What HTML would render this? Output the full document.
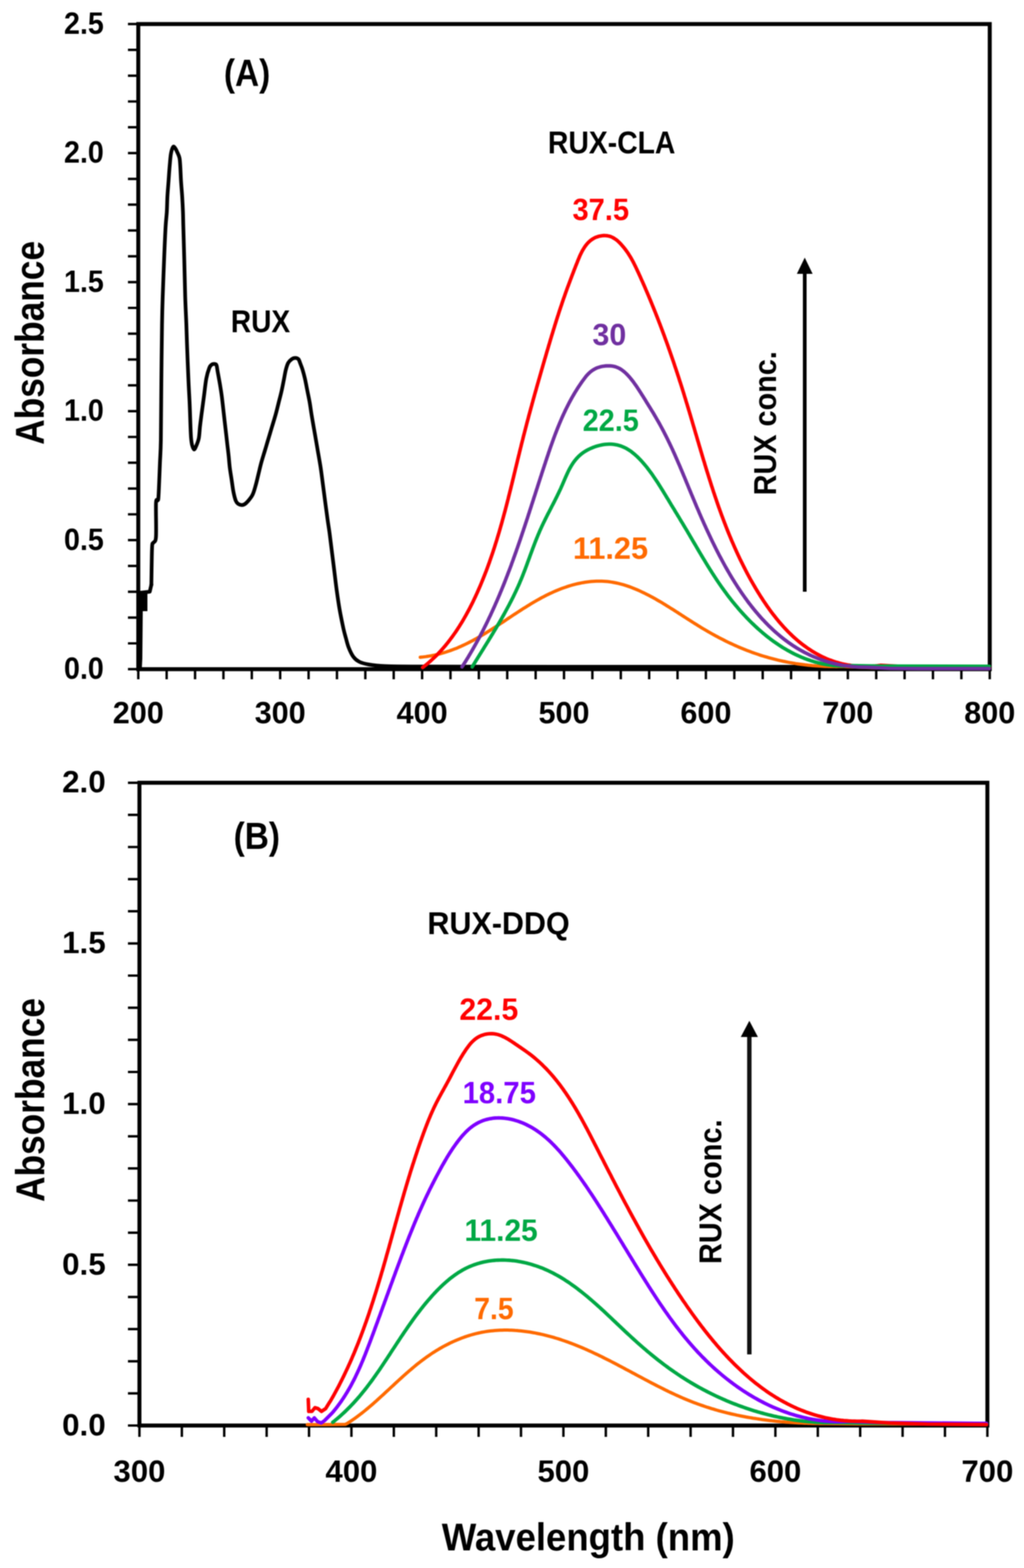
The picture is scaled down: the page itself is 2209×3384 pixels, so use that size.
<!DOCTYPE html>
<html><head><meta charset="utf-8"><title>RUX absorbance spectra</title><style>html,body{margin:0;padding:0;background:#fff;overflow:hidden}svg text{font-family:"Liberation Sans",Arial,sans-serif;font-weight:bold}</style></head><body>
<svg xmlns="http://www.w3.org/2000/svg" width="2209" height="3384" viewBox="0 0 2209 3384" style="display:block;filter:blur(1.1px);font-family:'Liberation Sans',Arial,sans-serif;font-weight:bold">
<rect width="2209" height="3384" fill="#fff"/>
<rect x="298.3" y="51.9" width="1836.8" height="1392.3" fill="none" stroke="#000" stroke-width="8.6"/>
<path d="M276 1444.2H298.3M276 1388.5H298.3M276 1332.8H298.3M276 1277.1H298.3M276 1221.4H298.3M276 1165.7H298.3M276 1110H298.3M276 1054.4H298.3M276 998.7H298.3M276 943H298.3M276 887.3H298.3M276 831.6H298.3M276 775.9H298.3M276 720.2H298.3M276 664.5H298.3M276 608.8H298.3M276 553.1H298.3M276 497.4H298.3M276 441.7H298.3M276 386.1H298.3M276 330.4H298.3M276 274.7H298.3M276 219H298.3M276 163.3H298.3M276 107.6H298.3M276 51.9H298.3M298.3 1444.2V1466M359.5 1444.2V1466M420.8 1444.2V1466M482 1444.2V1466M543.2 1444.2V1466M604.4 1444.2V1466M665.7 1444.2V1466M726.9 1444.2V1466M788.1 1444.2V1466M849.3 1444.2V1466M910.6 1444.2V1466M971.8 1444.2V1466M1033 1444.2V1466M1094.2 1444.2V1466M1155.5 1444.2V1466M1216.7 1444.2V1466M1277.9 1444.2V1466M1339.2 1444.2V1466M1400.4 1444.2V1466M1461.6 1444.2V1466M1522.8 1444.2V1466M1584.1 1444.2V1466M1645.3 1444.2V1466M1706.5 1444.2V1466M1767.7 1444.2V1466M1829 1444.2V1466M1890.2 1444.2V1466M1951.4 1444.2V1466M2012.6 1444.2V1466M2073.9 1444.2V1466M2135.1 1444.2V1466" stroke="#000" stroke-width="5.2" fill="none"/>
<rect x="299" y="1275" width="19" height="44" fill="#000"/>
<path d="M302 1441 L303 1421 L304 1318" stroke="#000" stroke-width="8" fill="none" stroke-linejoin="round" stroke-linecap="round"/>
<path d="M305 1279 L323 1277 L326.5 1262" stroke="#000" stroke-width="8" fill="none" stroke-linejoin="round" stroke-linecap="round"/>
<path d="M326.5 1262C326.7 1251.7 327.2 1214.5 327.5 1200C327.8 1185.5 327.9 1179.8 328.5 1175C329.1 1170.2 329.7 1173.8 331 1171C332.3 1168.2 335.6 1172.2 336.5 1158C337.4 1143.8 335.9 1099 336.5 1086C337.1 1073 339.1 1082.7 340 1080C340.9 1077.3 341.2 1083.3 342 1070C342.8 1056.7 344.2 1020 345 1000C345.8 980 346.5 978.5 347 950C347.5 921.5 347.6 870.7 348 829C348.4 787.3 349 731.5 349.5 700C350 668.5 350.2 663.3 351 640C351.8 616.7 353 585 354 560C355 535 356.2 507 357.2 490C358.2 473 359.1 468.9 359.8 458C360.5 447.1 360.5 435.7 361.1 424.5C361.7 413.3 362.8 402 363.6 390.8C364.4 379.6 365.2 367 366.1 357.2C367 347.4 367.5 338.7 368.7 332C369.9 325.3 371.9 319 373.5 317C375.1 315 376.6 318.2 378 320C379.4 321.8 380.6 324.4 382.1 327.8C383.6 331.2 386 335.5 387.1 340.4C388.2 345.3 388.2 348.8 388.8 357.2C389.4 365.6 389.8 379.6 390.5 390.8C391.2 402 392.3 413.3 393 424.5C393.7 435.7 394.3 447.1 394.7 458C395.1 468.9 395 473 395.5 490C396 507 396.8 535 397.5 560C398.2 585 398.8 616.7 399.5 640C400.2 663.3 401.4 683.3 402 700C402.6 716.7 402.6 720.5 403.3 740C404 759.5 405.4 795.5 406.4 817C407.3 838.5 408.2 851.5 409 868.7C409.8 885.9 410.4 907.2 410.9 920C411.4 932.8 411.6 938.9 412.2 945.7C412.8 952.5 413.4 957 414.5 961C415.6 965 417.2 969.7 418.6 970C420 970.3 421.3 967 423 963C424.7 959 427.5 952.9 428.9 945.7C430.3 938.5 430.5 928.5 431.5 920C432.5 911.5 433.3 905.1 434.7 894.4C436.1 883.7 438.2 868.7 439.9 855.8C441.6 842.9 443.1 827.5 445 817.2C446.9 806.9 449.6 799 451.5 794C453.4 789 454.9 788.4 456.6 787C458.4 785.6 460.3 785.3 462 785.5C463.7 785.7 465.8 785.3 467 788C468.2 790.7 468.2 794.8 469.5 801.8C470.8 808.8 473.1 821.1 474.6 830.1C476.1 839.1 477.4 847.2 478.5 855.8C479.6 864.4 480.5 873 481.5 881.6C482.5 890.2 483.3 897.9 484.4 907.3C485.5 916.7 487 929.7 488 938.2C489 946.8 489.4 950.9 490.3 958.6C491.2 966.3 492.4 975.8 493.3 984.4C494.2 993 494.7 1001.4 495.8 1010C496.9 1018.6 498.4 1027.2 499.7 1035.8C501 1044.4 502.1 1054.1 503.6 1061.6C505.1 1069.1 507 1076.6 508.7 1080.9C510.4 1085.2 511.9 1086 514 1087.5C516.1 1089 519.3 1089.9 521.6 1090C523.9 1090.1 525.9 1089.3 528 1088C530.1 1086.7 531.6 1085.5 534.4 1082.2C537.2 1078.9 541.9 1073.6 544.7 1068C547.5 1062.4 549.1 1056.2 551.2 1048.7C553.4 1041.2 555.5 1031.6 557.6 1023C559.7 1014.4 561.6 1005.8 564 997.2C566.4 988.6 569.5 979 571.7 971.5C574 964 575.7 957.9 577.5 952C579.3 946.1 580.7 941.3 582.3 936C583.9 930.7 584.9 927.1 587 920.2C589.1 913.3 592.3 903 594.7 894.4C597.1 885.8 599.1 877.3 601.2 868.7C603.4 860.1 605.7 851.6 607.6 843C609.5 834.4 611.3 824.7 612.8 817.2C614.3 809.7 615.1 803.6 616.6 797.9C618.1 792.2 619.6 786.8 621.8 783C623.9 779.2 627 776.8 629.5 775C632 773.2 634.1 772.5 636.5 772.5C638.9 772.5 641.8 772.9 643.7 775C645.6 777.1 646.5 781.2 648 785C649.5 788.8 651.1 792.5 652.7 797.9C654.3 803.3 656.1 809.7 657.8 817.2C659.5 824.7 661.3 834.4 663 843C664.7 851.6 666.6 860.1 668.1 868.7C669.6 877.3 670.6 885.8 672 894.4C673.4 903 675.2 913.3 676.4 920.2C677.6 927.1 677.8 927.9 679.2 936C680.6 944.1 682.8 956.7 684.8 968.6C686.8 980.5 689.4 994.3 691.4 1007.2C693.4 1020.1 694.9 1032.9 696.6 1045.8C698.3 1058.7 700 1071.5 701.7 1084.4C703.4 1097.3 705.4 1112.1 706.9 1123C708.4 1133.9 709.4 1138.7 710.9 1150C712.4 1161.3 714.3 1177.3 716 1191C717.7 1204.7 719.5 1218.6 721.2 1232.4C722.9 1246.2 724.4 1259.9 726.3 1273.6C728.2 1287.3 730.1 1301 732.5 1314.7C734.9 1328.4 738.5 1345.7 740.7 1356C743 1366.3 744.1 1369.7 746 1376.5C747.9 1383.3 749.3 1390.1 752 1397C754.7 1403.9 758.6 1412.5 762.4 1417.7C766.2 1422.9 769.3 1425.3 774.7 1428C780.1 1430.7 785.8 1432.4 795 1434C804.2 1435.6 812.5 1436.8 830 1437.5C847.5 1438.2 838.3 1438.2 900 1438.5C961.7 1438.8 994.3 1438.9 1200 1439C1405.7 1439.1 1978.3 1439 2134 1439" stroke="#000" stroke-width="8" fill="none" stroke-linejoin="round" stroke-linecap="round"/>
<path d="M906.6 1418.5 L910.5 1418.1 L914.5 1417.6 L918.5 1417.1 L922.4 1416.5 L926.3 1415.9 L930.3 1415.2 L934.2 1414.4 L938.1 1413.6 L942 1412.7 L945.9 1411.8 L949.7 1410.8 L953.6 1409.7 L957.4 1408.6 L961.2 1407.5 L965 1406.2 L968.8 1405 L972.6 1403.6 L976.3 1402.3 L980.1 1400.8 L983.8 1399.4 L987.5 1397.9 L991.1 1396.3 L994.8 1394.7 L998.4 1393 L1002 1391.3 L1005.6 1389.6 L1009.2 1387.8 L1012.8 1386 L1016.3 1384.2 L1019.9 1382.3 L1023.4 1380.4 L1026.9 1378.5 L1030.3 1376.6 L1033.8 1374.6 L1037.3 1372.6 L1040.7 1370.5 L1044.1 1368.5 L1047.5 1366.4 L1050.9 1364.3 L1054.3 1362.2 L1057.7 1360.1 L1061.1 1357.9 L1064.4 1355.8 L1067.8 1353.6 L1071.1 1351.4 L1074.5 1349.3 L1077.8 1347.1 L1081.1 1344.9 L1084.5 1342.7 L1087.8 1340.5 L1091.1 1338.3 L1094.4 1336 L1097.8 1333.8 L1101.1 1331.6 L1104.4 1329.4 L1107.7 1327.2 L1111.1 1325 L1114.4 1322.8 L1117.8 1320.6 L1121.1 1318.5 L1124.5 1316.3 L1127.8 1314.1 L1131.2 1312 L1134.6 1309.9 L1138 1307.8 L1141.4 1305.7 L1144.8 1303.6 L1148.2 1301.6 L1151.6 1299.5 L1155.1 1297.5 L1158.5 1295.5 L1162 1293.6 L1165.5 1291.6 L1169 1289.7 L1172.6 1287.9 L1176.1 1286 L1179.7 1284.2 L1183.2 1282.5 L1186.8 1280.7 L1190.5 1279.1 L1194.1 1277.4 L1197.8 1275.8 L1201.4 1274.2 L1205.1 1272.7 L1208.8 1271.3 L1212.6 1269.8 L1216.3 1268.5 L1220.1 1267.2 L1223.9 1265.9 L1227.7 1264.7 L1231.5 1263.5 L1235.3 1262.4 L1239.2 1261.4 L1243.1 1260.4 L1246.9 1259.5 L1250.8 1258.7 L1254.8 1257.9 L1258.7 1257.2 L1262.6 1256.5 L1266.6 1256 L1270.5 1255.5 L1274.5 1255.1 L1278.5 1254.7 L1282.5 1254.5 L1286.5 1254.3 L1290.5 1254.2 L1294.4 1254.2 L1298.4 1254.3 L1302.4 1254.4 L1306.4 1254.7 L1310.4 1255.1 L1314.3 1255.5 L1318.3 1256.1 L1322.2 1256.7 L1326.2 1257.5 L1330.1 1258.3 L1334 1259.1 L1337.8 1260.1 L1341.7 1261.1 L1345.5 1262.2 L1349.3 1263.4 L1353.1 1264.6 L1356.9 1265.9 L1360.7 1267.3 L1364.4 1268.7 L1368.1 1270.2 L1371.8 1271.7 L1375.5 1273.3 L1379.1 1274.9 L1382.8 1276.6 L1386.4 1278.3 L1390 1280 L1393.5 1281.8 L1397.1 1283.6 L1400.6 1285.4 L1404.2 1287.3 L1407.7 1289.2 L1411.2 1291.1 L1414.6 1293.1 L1418.1 1295.1 L1421.6 1297.1 L1425 1299.1 L1428.4 1301.1 L1431.9 1303.2 L1435.3 1305.3 L1438.7 1307.4 L1442.1 1309.5 L1445.4 1311.6 L1448.8 1313.7 L1452.2 1315.8 L1455.6 1318 L1458.9 1320.1 L1462.3 1322.3 L1465.6 1324.5 L1469 1326.6 L1472.3 1328.8 L1475.7 1330.9 L1479.1 1333.1 L1482.4 1335.3 L1485.8 1337.4 L1489.1 1339.6 L1492.5 1341.7 L1495.9 1343.9 L1499.2 1346 L1502.6 1348.1 L1506 1350.2 L1509.4 1352.3 L1512.8 1354.4 L1516.2 1356.5 L1519.7 1358.5 L1523.1 1360.5 L1526.6 1362.6 L1530 1364.5 L1533.5 1366.5 L1537 1368.5 L1540.5 1370.4 L1544 1372.3 L1547.5 1374.2 L1551 1376.1 L1554.5 1377.9 L1558.1 1379.7 L1561.7 1381.5 L1565.2 1383.3 L1568.8 1385.1 L1572.4 1386.8 L1576 1388.5 L1579.6 1390.2 L1583.3 1391.9 L1586.9 1393.5 L1590.6 1395.1 L1594.2 1396.7 L1597.9 1398.3 L1601.6 1399.8 L1605.3 1401.3 L1609 1402.8 L1612.7 1404.2 L1616.4 1405.6 L1620.2 1407 L1623.9 1408.4 L1627.7 1409.7 L1631.5 1411 L1635.3 1412.3 L1639 1413.6 L1642.8 1414.8 L1646.7 1416 L1650.5 1417.1 L1654.3 1418.2 L1658.1 1419.3 L1662 1420.4 L1665.9 1421.4 L1669.7 1422.4 L1673.6 1423.4 L1677.5 1424.4 L1681.4 1425.3 L1685.2 1426.1 L1689.1 1427 L1693.1 1427.8 L1697 1428.6 L1700.9 1429.4 L1704.8 1430.1 L1708.7 1430.8 L1712.7 1431.4 L1716.6 1432.1 L1720.6 1432.7 L1724.5 1433.2 L1728.5 1433.8 L1732.4 1434.3 L1736.4 1434.8 L1740.4 1435.2 L1744.3 1435.7 L1748.3 1436 L1752.3 1436.4 L1756.3 1436.7 L1760.2 1437.1 L1764.2 1437.3 L1768.2 1437.6 L1772.2 1437.8 L1776.2 1438 L1780.2 1438.2 L1784.2 1438.3 L1788.1 1438.4 L1792.1 1438.5 L1796.1 1438.6 L1800.1 1438.6 L1804.1 1438.7 L1808.1 1438.6 L1812.1 1438.6 L1816.1 1438.6 L1820.1 1438.5 L1880 1441 L2134 1442" stroke="#ff6a00" stroke-width="7" fill="none" stroke-linejoin="round" stroke-linecap="round"/>
<path d="M911.8 1440.5 L915 1438.1 L918.1 1435.6 L921.2 1433.1 L924.2 1430.5 L927.3 1427.9 L930.2 1425.2 L933.2 1422.5 L936.1 1419.8 L939 1417 L941.8 1414.2 L944.6 1411.3 L947.3 1408.4 L950 1405.5 L952.7 1402.5 L955.4 1399.5 L958 1396.5 L960.6 1393.5 L963.1 1390.4 L965.6 1387.3 L968.1 1384.1 L970.5 1381 L972.9 1377.8 L975.3 1374.6 L977.6 1371.3 L979.9 1368.1 L982.2 1364.8 L984.5 1361.5 L986.7 1358.2 L988.8 1354.8 L991 1351.5 L993.1 1348.1 L995.2 1344.7 L997.3 1341.3 L999.3 1337.8 L1001.3 1334.4 L1003.3 1330.9 L1005.3 1327.4 L1007.2 1323.9 L1009.1 1320.4 L1011 1316.9 L1012.9 1313.4 L1014.7 1309.8 L1016.5 1306.3 L1018.3 1302.7 L1020.1 1299.1 L1021.8 1295.5 L1023.5 1291.9 L1025.2 1288.3 L1026.9 1284.7 L1028.6 1281 L1030.2 1277.4 L1031.8 1273.7 L1033.4 1270.1 L1035 1266.4 L1036.6 1262.7 L1038.1 1259.1 L1039.6 1255.4 L1041.1 1251.7 L1042.6 1248 L1044.1 1244.3 L1045.6 1240.5 L1047 1236.8 L1048.5 1233.1 L1049.9 1229.4 L1051.3 1225.6 L1052.6 1221.9 L1054 1218.1 L1055.4 1214.4 L1056.7 1210.6 L1058 1206.8 L1059.3 1203.1 L1060.6 1199.3 L1061.9 1195.5 L1063.2 1191.7 L1064.4 1187.9 L1065.7 1184.1 L1066.9 1180.3 L1068.1 1176.5 L1069.3 1172.7 L1070.5 1168.9 L1071.7 1165.1 L1072.8 1161.3 L1074 1157.4 L1075.1 1153.6 L1076.3 1149.8 L1077.4 1146 L1078.5 1142.1 L1079.6 1138.3 L1080.7 1134.4 L1081.8 1130.6 L1082.9 1126.7 L1083.9 1122.9 L1085 1119 L1086 1115.2 L1087.1 1111.3 L1088.1 1107.5 L1089.2 1103.6 L1090.2 1099.8 L1091.2 1095.9 L1092.2 1092 L1093.2 1088.2 L1094.2 1084.3 L1095.2 1080.4 L1096.2 1076.6 L1097.1 1072.7 L1098.1 1068.8 L1099.1 1064.9 L1100 1061.1 L1101 1057.2 L1102 1053.3 L1102.9 1049.4 L1103.9 1045.6 L1104.8 1041.7 L1105.8 1037.8 L1106.7 1033.9 L1107.7 1030 L1108.6 1026.2 L1109.5 1022.3 L1110.5 1018.4 L1111.4 1014.5 L1112.3 1010.6 L1113.3 1006.7 L1114.2 1002.9 L1115.2 999 L1116.1 995.1 L1117 991.2 L1118 987.3 L1118.9 983.5 L1119.9 979.6 L1120.8 975.7 L1121.8 971.8 L1122.7 967.9 L1123.7 964.1 L1124.6 960.2 L1125.6 956.3 L1126.6 952.4 L1127.6 948.6 L1128.5 944.7 L1129.5 940.8 L1130.5 937 L1131.5 933.1 L1132.5 929.2 L1133.5 925.4 L1134.5 921.5 L1135.5 917.6 L1136.5 913.8 L1137.5 909.9 L1138.6 906 L1139.6 902.2 L1140.6 898.3 L1141.6 894.5 L1142.7 890.6 L1143.7 886.8 L1144.8 882.9 L1145.8 879 L1146.9 875.2 L1147.9 871.3 L1149 867.5 L1150 863.6 L1151.1 859.8 L1152.2 855.9 L1153.2 852.1 L1154.3 848.2 L1155.4 844.4 L1156.5 840.6 L1157.5 836.7 L1158.6 832.9 L1159.7 829 L1160.8 825.2 L1161.9 821.3 L1163 817.5 L1164.1 813.7 L1165.2 809.8 L1166.3 806 L1167.4 802.1 L1168.5 798.3 L1169.6 794.5 L1170.7 790.6 L1171.8 786.8 L1172.9 783 L1174 779.1 L1175.1 775.3 L1176.3 771.4 L1177.4 767.6 L1178.5 763.8 L1179.6 759.9 L1180.7 756.1 L1181.9 752.3 L1183 748.5 L1184.1 744.6 L1185.3 740.8 L1186.4 737 L1187.5 733.1 L1188.7 729.3 L1189.8 725.5 L1191 721.7 L1192.2 717.8 L1193.3 714 L1194.5 710.2 L1195.7 706.4 L1196.8 702.6 L1198 698.8 L1199.2 695 L1200.4 691.1 L1201.6 687.3 L1202.8 683.5 L1204.1 679.7 L1205.3 675.9 L1206.5 672.1 L1207.8 668.3 L1209 664.5 L1210.3 660.8 L1211.6 657 L1212.8 653.2 L1214.1 649.4 L1215.4 645.6 L1216.7 641.9 L1218.1 638.1 L1219.4 634.3 L1220.7 630.6 L1222.1 626.8 L1223.4 623.1 L1224.8 619.3 L1226.2 615.6 L1227.6 611.8 L1229 608.1 L1230.4 604.3 L1231.8 600.6 L1233.2 596.9 L1234.6 593.1 L1236.1 589.4 L1237.5 585.7 L1238.9 581.9 L1240.4 578.2 L1241.8 574.5 L1243.3 570.8 L1244.8 567.1 L1246.2 563.4 L1247.7 559.7 L1249.3 556 L1250.8 552.3 L1252.5 548.7 L1254.3 545.1 L1256.1 541.5 L1258.1 538.1 L1260.2 534.7 L1262.4 531.4 L1264.8 528.2 L1267.4 525.1 L1270.2 522.3 L1273.2 519.6 L1276.3 517.2 L1279.7 515 L1283.2 513.1 L1286.9 511.6 L1290.7 510.3 L1294.5 509.4 L1298.5 508.7 L1302.5 508.4 L1306.5 508.5 L1310.4 508.9 L1314.3 509.7 L1318.1 510.9 L1321.8 512.6 L1325.2 514.6 L1328.5 516.8 L1331.7 519.3 L1334.6 522 L1337.5 524.8 L1340.2 527.7 L1342.8 530.7 L1345.4 533.8 L1347.9 536.9 L1350.3 540.1 L1352.6 543.3 L1354.9 546.6 L1357 550 L1359.1 553.3 L1361.2 556.8 L1363.2 560.3 L1365.1 563.8 L1366.9 567.3 L1368.7 570.9 L1370.5 574.4 L1372.2 578 L1373.9 581.7 L1375.6 585.3 L1377.3 588.9 L1378.9 592.5 L1380.6 596.2 L1382.2 599.8 L1383.8 603.5 L1385.5 607.1 L1387.1 610.8 L1388.7 614.4 L1390.3 618.1 L1391.9 621.8 L1393.4 625.4 L1395 629.1 L1396.6 632.8 L1398.1 636.4 L1399.7 640.1 L1401.2 643.8 L1402.8 647.5 L1404.3 651.2 L1405.8 654.9 L1407.3 658.6 L1408.8 662.3 L1410.3 666 L1411.8 669.7 L1413.3 673.4 L1414.8 677.1 L1416.2 680.8 L1417.7 684.5 L1419.2 688.3 L1420.6 692 L1422 695.7 L1423.5 699.4 L1424.9 703.2 L1426.3 706.9 L1427.7 710.6 L1429.1 714.4 L1430.5 718.1 L1431.9 721.9 L1433.3 725.6 L1434.6 729.4 L1436 733.1 L1437.4 736.9 L1438.7 740.6 L1440.1 744.4 L1441.4 748.1 L1442.7 751.9 L1444.1 755.7 L1445.4 759.4 L1446.7 763.2 L1448 767 L1449.3 770.8 L1450.6 774.5 L1451.9 778.3 L1453.2 782.1 L1454.5 785.9 L1455.7 789.7 L1457 793.5 L1458.3 797.2 L1459.5 801 L1460.8 804.8 L1462 808.6 L1463.3 812.4 L1464.5 816.2 L1465.7 820 L1466.9 823.8 L1468.2 827.6 L1469.4 831.4 L1470.6 835.2 L1471.8 839 L1473 842.9 L1474.2 846.7 L1475.4 850.5 L1476.5 854.3 L1477.7 858.1 L1478.9 861.9 L1480 865.8 L1481.2 869.6 L1482.4 873.4 L1483.5 877.2 L1484.7 881 L1485.8 884.9 L1487 888.7 L1488.1 892.5 L1489.3 896.3 L1490.4 900.2 L1491.5 904 L1492.7 907.8 L1493.8 911.7 L1494.9 915.5 L1496 919.3 L1497.2 923.2 L1498.3 927 L1499.4 930.8 L1500.5 934.7 L1501.7 938.5 L1502.8 942.3 L1503.9 946.1 L1505 950 L1506.2 953.8 L1507.3 957.6 L1508.4 961.5 L1509.6 965.3 L1510.7 969.1 L1511.8 973 L1513 976.8 L1514.1 980.6 L1515.2 984.4 L1516.4 988.3 L1517.5 992.1 L1518.7 995.9 L1519.9 999.7 L1521 1003.6 L1522.2 1007.4 L1523.3 1011.2 L1524.5 1015 L1525.7 1018.8 L1526.9 1022.6 L1528.1 1026.5 L1529.3 1030.3 L1530.5 1034.1 L1531.7 1037.9 L1532.9 1041.7 L1534.1 1045.5 L1535.3 1049.3 L1536.6 1053.1 L1537.8 1056.9 L1539 1060.7 L1540.3 1064.5 L1541.6 1068.3 L1542.8 1072.1 L1544.1 1075.8 L1545.4 1079.6 L1546.7 1083.4 L1548 1087.2 L1549.3 1090.9 L1550.6 1094.7 L1552 1098.5 L1553.3 1102.2 L1554.7 1106 L1556 1109.7 L1557.4 1113.5 L1558.8 1117.2 L1560.2 1121 L1561.6 1124.7 L1563 1128.4 L1564.5 1132.2 L1565.9 1135.9 L1567.4 1139.6 L1568.8 1143.3 L1570.3 1147 L1571.8 1150.7 L1573.3 1154.4 L1574.8 1158.1 L1576.4 1161.8 L1577.9 1165.5 L1579.5 1169.2 L1581.1 1172.8 L1582.7 1176.5 L1584.3 1180.2 L1585.9 1183.8 L1587.5 1187.4 L1589.2 1191.1 L1590.8 1194.7 L1592.5 1198.3 L1594.2 1201.9 L1595.9 1205.6 L1597.7 1209.2 L1599.4 1212.7 L1601.2 1216.3 L1603 1219.9 L1604.8 1223.5 L1606.6 1227 L1608.4 1230.6 L1610.2 1234.1 L1612.1 1237.7 L1614 1241.2 L1615.9 1244.7 L1617.8 1248.2 L1619.7 1251.7 L1621.7 1255.2 L1623.7 1258.6 L1625.7 1262.1 L1627.7 1265.5 L1629.7 1269 L1631.8 1272.4 L1633.8 1275.8 L1635.9 1279.2 L1638 1282.6 L1640.1 1286 L1642.3 1289.4 L1644.5 1292.7 L1646.6 1296.1 L1648.9 1299.4 L1651.1 1302.7 L1653.4 1306 L1655.6 1309.3 L1658 1312.5 L1660.3 1315.8 L1662.6 1319 L1665 1322.2 L1667.4 1325.4 L1669.9 1328.5 L1672.4 1331.7 L1674.8 1334.8 L1677.4 1337.9 L1679.9 1341 L1682.5 1344 L1685.1 1347 L1687.8 1350 L1690.4 1353 L1693.1 1355.9 L1695.9 1358.8 L1698.6 1361.7 L1701.5 1364.6 L1704.3 1367.4 L1707.2 1370.1 L1710.1 1372.9 L1713 1375.6 L1716 1378.3 L1719 1380.9 L1722 1383.5 L1725.1 1386 L1728.2 1388.5 L1731.4 1391 L1734.6 1393.4 L1737.8 1395.7 L1741 1398 L1744.3 1400.3 L1747.7 1402.5 L1751 1404.7 L1754.4 1406.8 L1757.8 1408.8 L1761.3 1410.8 L1764.8 1412.7 L1768.4 1414.6 L1771.9 1416.4 L1775.5 1418.1 L1779.1 1419.8 L1782.8 1421.4 L1786.5 1422.9 L1790.2 1424.4 L1794 1425.7 L1797.7 1427.1 L1801.5 1428.3 L1805.3 1429.5 L1809.2 1430.6 L1813 1431.6 L1816.9 1432.6 L1820.8 1433.5 L1824.7 1434.3 L1828.6 1435 L1832.6 1435.6 L1836.5 1436.2 L1840.5 1436.7 L1844.5 1437.2 L1848.4 1437.5 L1852.4 1437.8 L1856.4 1438 L1860.4 1438.2 L1864.4 1438.2 L1868.4 1438.2 L1872.4 1438.2 L1876.4 1438 L1880.4 1437.8 L1884.3 1437.5 L1888.3 1437.2 L1892.3 1436.8 L1896.3 1436.3 L1900.2 1435.8 L1950 1438.5 L2000 1439.5 L2134 1440" stroke="#ff0000" stroke-width="7.6" fill="none" stroke-linejoin="round" stroke-linecap="round"/>
<path d="M1018.6 1439.2 L1020.7 1435.8 L1022.8 1432.4 L1024.9 1429 L1027 1425.6 L1029.1 1422.2 L1031.2 1418.8 L1033.3 1415.4 L1035.4 1412 L1037.5 1408.7 L1039.6 1405.3 L1041.7 1401.9 L1043.8 1398.5 L1045.9 1395.1 L1048 1391.7 L1050.1 1388.3 L1052.2 1384.9 L1054.3 1381.5 L1056.4 1378.1 L1058.5 1374.7 L1060.5 1371.3 L1062.6 1367.9 L1064.7 1364.4 L1066.7 1361 L1068.8 1357.6 L1070.8 1354.2 L1072.8 1350.7 L1074.9 1347.3 L1076.9 1343.8 L1078.9 1340.4 L1080.9 1336.9 L1082.8 1333.5 L1084.8 1330 L1086.8 1326.5 L1088.7 1323 L1090.6 1319.5 L1092.5 1316 L1094.4 1312.5 L1096.3 1309 L1098.2 1305.5 L1100 1301.9 L1101.9 1298.4 L1103.7 1294.8 L1105.5 1291.3 L1107.3 1287.7 L1109 1284.1 L1110.7 1280.5 L1112.5 1276.9 L1114.1 1273.3 L1115.8 1269.7 L1117.5 1266 L1119.1 1262.4 L1120.7 1258.7 L1122.2 1255 L1123.8 1251.4 L1125.3 1247.7 L1126.8 1244 L1128.3 1240.3 L1129.7 1236.5 L1131.2 1232.8 L1132.6 1229.1 L1134 1225.4 L1135.4 1221.6 L1136.8 1217.9 L1138.1 1214.1 L1139.5 1210.4 L1140.9 1206.6 L1142.3 1202.9 L1143.6 1199.1 L1145 1195.4 L1146.4 1191.6 L1147.8 1187.9 L1149.1 1184.2 L1150.6 1180.4 L1152 1176.7 L1153.4 1173 L1154.8 1169.2 L1156.3 1165.5 L1157.8 1161.8 L1159.3 1158.1 L1160.8 1154.4 L1162.4 1150.8 L1163.9 1147.1 L1165.5 1143.4 L1167.2 1139.8 L1168.8 1136.2 L1170.5 1132.6 L1172.2 1129 L1174 1125.4 L1175.7 1121.8 L1177.5 1118.2 L1179.3 1114.6 L1181.1 1111.1 L1182.9 1107.5 L1184.8 1104 L1186.6 1100.4 L1188.4 1096.9 L1190.2 1093.3 L1192.1 1089.8 L1193.9 1086.2 L1195.7 1082.7 L1197.5 1079.1 L1199.3 1075.5 L1201.1 1072 L1202.8 1068.4 L1204.6 1064.8 L1206.3 1061.2 L1208 1057.6 L1209.7 1054 L1211.3 1050.3 L1212.9 1046.7 L1214.5 1043 L1216.1 1039.3 L1217.6 1035.7 L1219.2 1032 L1220.8 1028.4 L1222.5 1024.7 L1224.1 1021.1 L1225.8 1017.5 L1227.6 1013.9 L1229.5 1010.4 L1231.5 1006.9 L1233.5 1003.5 L1235.7 1000.1 L1237.9 996.9 L1240.4 993.7 L1242.9 990.6 L1245.6 987.6 L1248.4 984.8 L1251.3 982.1 L1254.4 979.5 L1257.6 977.1 L1260.9 974.9 L1264.3 972.8 L1267.8 970.9 L1271.3 969.1 L1275 967.4 L1278.6 965.9 L1282.4 964.5 L1286.2 963.2 L1290 962.1 L1293.9 961.1 L1297.8 960.3 L1301.7 959.6 L1305.6 959 L1309.6 958.7 L1313.6 958.5 L1317.6 958.5 L1321.6 958.8 L1325.5 959.2 L1329.5 959.9 L1333.4 960.8 L1337.2 961.9 L1341 963.2 L1344.7 964.7 L1348.3 966.4 L1351.8 968.2 L1355.2 970.3 L1358.6 972.4 L1361.9 974.7 L1365 977.2 L1368.1 979.7 L1371.1 982.3 L1374.1 985 L1376.9 987.8 L1379.7 990.6 L1382.5 993.5 L1385.2 996.5 L1387.8 999.5 L1390.4 1002.5 L1393 1005.6 L1395.5 1008.7 L1397.9 1011.8 L1400.3 1015 L1402.7 1018.2 L1405.1 1021.4 L1407.4 1024.7 L1409.6 1028 L1411.9 1031.3 L1414.1 1034.6 L1416.3 1037.9 L1418.5 1041.2 L1420.7 1044.6 L1422.8 1048 L1424.9 1051.3 L1427 1054.7 L1429.1 1058.1 L1431.2 1061.5 L1433.3 1064.9 L1435.4 1068.4 L1437.4 1071.8 L1439.5 1075.2 L1441.6 1078.6 L1443.6 1082 L1445.7 1085.4 L1447.7 1088.9 L1449.8 1092.3 L1451.9 1095.7 L1454 1099.1 L1456 1102.5 L1458.1 1105.9 L1460.2 1109.3 L1462.2 1112.7 L1464.3 1116.1 L1466.4 1119.6 L1468.4 1123 L1470.5 1126.4 L1472.6 1129.8 L1474.6 1133.2 L1476.7 1136.7 L1478.7 1140.1 L1480.8 1143.5 L1482.8 1146.9 L1484.8 1150.4 L1486.9 1153.8 L1488.9 1157.3 L1490.9 1160.7 L1492.9 1164.1 L1494.9 1167.6 L1496.9 1171 L1499 1174.5 L1501 1177.9 L1503 1181.4 L1505 1184.8 L1507 1188.2 L1509.1 1191.7 L1511.1 1195.1 L1513.1 1198.5 L1515.2 1202 L1517.2 1205.4 L1519.3 1208.8 L1521.4 1212.2 L1523.4 1215.6 L1525.5 1219 L1527.6 1222.4 L1529.7 1225.8 L1531.8 1229.2 L1534 1232.6 L1536.1 1236 L1538.3 1239.3 L1540.4 1242.7 L1542.6 1246 L1544.8 1249.3 L1547 1252.7 L1549.2 1256 L1551.5 1259.3 L1553.8 1262.6 L1556 1265.8 L1558.3 1269.1 L1560.7 1272.3 L1563 1275.6 L1565.4 1278.8 L1567.7 1282 L1570.1 1285.2 L1572.5 1288.4 L1575 1291.5 L1577.4 1294.7 L1579.9 1297.8 L1582.4 1300.9 L1585 1304 L1587.5 1307.1 L1590.1 1310.1 L1592.7 1313.2 L1595.3 1316.2 L1597.9 1319.2 L1600.6 1322.1 L1603.3 1325.1 L1606 1328 L1608.7 1330.9 L1611.4 1333.8 L1614.2 1336.7 L1617 1339.6 L1619.8 1342.4 L1622.7 1345.2 L1625.6 1347.9 L1628.5 1350.7 L1631.4 1353.4 L1634.3 1356.1 L1637.3 1358.8 L1640.3 1361.4 L1643.3 1364 L1646.3 1366.6 L1649.4 1369.2 L1652.5 1371.7 L1655.6 1374.2 L1658.8 1376.6 L1661.9 1379.1 L1665.1 1381.5 L1668.3 1383.8 L1671.6 1386.1 L1674.9 1388.4 L1678.2 1390.7 L1681.5 1392.9 L1684.8 1395 L1688.2 1397.2 L1691.6 1399.2 L1695.1 1401.3 L1698.5 1403.3 L1702 1405.2 L1705.5 1407.1 L1709 1409 L1712.6 1410.8 L1716.2 1412.6 L1719.8 1414.3 L1723.4 1415.9 L1727.1 1417.5 L1730.7 1419.1 L1734.4 1420.6 L1738.2 1422 L1741.9 1423.4 L1745.7 1424.7 L1749.5 1426 L1753.3 1427.2 L1757.1 1428.3 L1760.9 1429.4 L1764.8 1430.4 L1768.7 1431.3 L1772.6 1432.2 L1776.5 1433 L1780.4 1433.8 L1784.3 1434.4 L1788.3 1435.1 L1792.2 1435.6 L1796.2 1436.1 L1800.2 1436.5 L1804.1 1436.8 L1808.1 1437 L1812.1 1437.2 L1816.1 1437.3 L1820.1 1437.4 L1824.1 1437.3 L1828.1 1437.2 L1832.1 1437 L1836 1436.8 L1840 1436.5 L1900 1437.5 L2134 1438" stroke="#00a844" stroke-width="7.6" fill="none" stroke-linejoin="round" stroke-linecap="round"/>
<path d="M996.7 1439.2 L998.9 1435.9 L1001 1432.5 L1003.2 1429.1 L1005.3 1425.7 L1007.4 1422.3 L1009.5 1418.9 L1011.5 1415.5 L1013.6 1412 L1015.6 1408.6 L1017.6 1405.1 L1019.6 1401.7 L1021.6 1398.2 L1023.6 1394.7 L1025.5 1391.2 L1027.5 1387.7 L1029.4 1384.2 L1031.3 1380.7 L1033.2 1377.2 L1035.1 1373.7 L1037 1370.1 L1038.8 1366.6 L1040.7 1363 L1042.5 1359.5 L1044.3 1355.9 L1046.1 1352.3 L1047.9 1348.8 L1049.6 1345.2 L1051.4 1341.6 L1053.1 1338 L1054.8 1334.4 L1056.6 1330.7 L1058.3 1327.1 L1059.9 1323.5 L1061.6 1319.9 L1063.3 1316.2 L1064.9 1312.6 L1066.6 1308.9 L1068.2 1305.3 L1069.8 1301.6 L1071.4 1297.9 L1073 1294.3 L1074.6 1290.6 L1076.1 1286.9 L1077.7 1283.2 L1079.2 1279.5 L1080.8 1275.8 L1082.3 1272.1 L1083.8 1268.4 L1085.3 1264.7 L1086.8 1261 L1088.3 1257.3 L1089.7 1253.6 L1091.2 1249.9 L1092.6 1246.1 L1094.1 1242.4 L1095.5 1238.7 L1096.9 1234.9 L1098.4 1231.2 L1099.8 1227.5 L1101.2 1223.7 L1102.6 1220 L1103.9 1216.2 L1105.3 1212.5 L1106.7 1208.7 L1108 1204.9 L1109.4 1201.2 L1110.7 1197.4 L1112.1 1193.6 L1113.4 1189.9 L1114.7 1186.1 L1116.1 1182.3 L1117.4 1178.5 L1118.7 1174.8 L1120 1171 L1121.3 1167.2 L1122.6 1163.4 L1123.9 1159.6 L1125.2 1155.8 L1126.4 1152 L1127.7 1148.3 L1129 1144.5 L1130.2 1140.7 L1131.5 1136.9 L1132.8 1133.1 L1134 1129.3 L1135.3 1125.5 L1136.5 1121.7 L1137.8 1117.9 L1139 1114.1 L1140.2 1110.3 L1141.5 1106.5 L1142.7 1102.7 L1143.9 1098.9 L1145.2 1095.1 L1146.4 1091.2 L1147.6 1087.4 L1148.9 1083.6 L1150.1 1079.8 L1151.3 1076 L1152.5 1072.2 L1153.8 1068.4 L1155 1064.6 L1156.2 1060.8 L1157.4 1057 L1158.7 1053.2 L1159.9 1049.4 L1161.1 1045.6 L1162.3 1041.8 L1163.6 1037.9 L1164.8 1034.1 L1166 1030.3 L1167.3 1026.5 L1168.5 1022.7 L1169.7 1018.9 L1171 1015.1 L1172.2 1011.3 L1173.5 1007.5 L1174.7 1003.7 L1176 999.9 L1177.2 996.1 L1178.5 992.3 L1179.7 988.5 L1181 984.7 L1182.3 980.9 L1183.5 977.1 L1184.8 973.4 L1186.1 969.6 L1187.4 965.8 L1188.7 962 L1190.1 958.2 L1191.4 954.5 L1192.8 950.7 L1194.1 947 L1195.5 943.2 L1196.9 939.5 L1198.3 935.7 L1199.8 932 L1201.2 928.2 L1202.7 924.5 L1204.2 920.8 L1205.7 917.1 L1207.2 913.4 L1208.8 909.7 L1210.3 906.1 L1211.9 902.4 L1213.6 898.7 L1215.2 895.1 L1216.9 891.5 L1218.6 887.8 L1220.3 884.2 L1222.1 880.6 L1223.9 877.1 L1225.7 873.5 L1227.5 869.9 L1229.4 866.4 L1231.3 862.9 L1233.2 859.4 L1235.2 855.9 L1237.2 852.5 L1239.2 849 L1241.3 845.6 L1243.4 842.2 L1245.5 838.8 L1247.7 835.4 L1249.9 832.1 L1252.1 828.8 L1254.4 825.5 L1256.7 822.2 L1259.1 819 L1261.5 815.8 L1263.9 812.6 L1266.5 809.6 L1269.2 806.7 L1272.1 803.9 L1275.2 801.3 L1278.5 799 L1281.9 796.9 L1285.4 795.1 L1289.1 793.5 L1292.9 792.3 L1296.8 791.2 L1300.7 790.4 L1304.6 789.9 L1308.6 789.6 L1312.6 789.5 L1316.6 789.6 L1320.6 790 L1324.5 790.8 L1328.4 791.8 L1332.1 793.2 L1335.8 794.9 L1339.2 796.9 L1342.5 799.2 L1345.7 801.6 L1348.7 804.3 L1351.6 807 L1354.4 809.9 L1357.1 812.8 L1359.7 815.9 L1362.2 819 L1364.7 822.1 L1367.1 825.3 L1369.4 828.6 L1371.7 831.8 L1374 835.1 L1376.2 838.5 L1378.4 841.8 L1380.5 845.2 L1382.7 848.5 L1384.8 851.9 L1387 855.3 L1389.1 858.7 L1391.2 862.1 L1393.3 865.5 L1395.4 868.9 L1397.5 872.3 L1399.6 875.7 L1401.7 879.1 L1403.8 882.5 L1405.9 885.9 L1408 889.3 L1410.1 892.8 L1412.1 896.2 L1414.1 899.6 L1416.1 903.1 L1418.1 906.6 L1420.1 910 L1422.1 913.5 L1424 917 L1425.9 920.5 L1427.8 924.1 L1429.7 927.6 L1431.6 931.1 L1433.4 934.7 L1435.2 938.2 L1437 941.8 L1438.8 945.4 L1440.6 949 L1442.3 952.6 L1444.1 956.2 L1445.8 959.8 L1447.5 963.4 L1449.2 967 L1450.9 970.7 L1452.5 974.3 L1454.2 977.9 L1455.8 981.6 L1457.4 985.3 L1459 988.9 L1460.6 992.6 L1462.2 996.2 L1463.8 999.9 L1465.4 1003.6 L1467 1007.3 L1468.5 1011 L1470.1 1014.6 L1471.6 1018.3 L1473.2 1022 L1474.7 1025.7 L1476.3 1029.4 L1477.8 1033.1 L1479.3 1036.8 L1480.8 1040.5 L1482.4 1044.2 L1483.9 1047.9 L1485.4 1051.6 L1486.9 1055.3 L1488.5 1059 L1490 1062.7 L1491.5 1066.4 L1493.1 1070.1 L1494.6 1073.8 L1496.1 1077.4 L1497.7 1081.1 L1499.2 1084.8 L1500.8 1088.5 L1502.3 1092.2 L1503.9 1095.9 L1505.5 1099.5 L1507.1 1103.2 L1508.6 1106.9 L1510.2 1110.6 L1511.8 1114.2 L1513.4 1117.9 L1515 1121.6 L1516.7 1125.2 L1518.3 1128.9 L1519.9 1132.5 L1521.6 1136.2 L1523.2 1139.8 L1524.9 1143.4 L1526.6 1147.1 L1528.3 1150.7 L1530 1154.3 L1531.7 1157.9 L1533.4 1161.6 L1535.1 1165.2 L1536.8 1168.8 L1538.6 1172.4 L1540.4 1176 L1542.1 1179.5 L1543.9 1183.1 L1545.7 1186.7 L1547.5 1190.3 L1549.3 1193.8 L1551.2 1197.4 L1553 1200.9 L1554.9 1204.4 L1556.8 1208 L1558.7 1211.5 L1560.6 1215 L1562.5 1218.5 L1564.4 1222 L1566.4 1225.5 L1568.4 1229 L1570.4 1232.5 L1572.4 1235.9 L1574.4 1239.4 L1576.4 1242.8 L1578.5 1246.2 L1580.6 1249.7 L1582.7 1253.1 L1584.8 1256.5 L1586.9 1259.8 L1589.1 1263.2 L1591.2 1266.6 L1593.4 1269.9 L1595.6 1273.2 L1597.9 1276.6 L1600.1 1279.9 L1602.4 1283.2 L1604.7 1286.4 L1607 1289.7 L1609.4 1292.9 L1611.7 1296.2 L1614.1 1299.4 L1616.5 1302.6 L1619 1305.7 L1621.4 1308.9 L1623.9 1312 L1626.4 1315.1 L1629 1318.2 L1631.5 1321.3 L1634.1 1324.3 L1636.7 1327.4 L1639.4 1330.4 L1642 1333.4 L1644.7 1336.3 L1647.5 1339.2 L1650.2 1342.1 L1653 1345 L1655.8 1347.9 L1658.6 1350.7 L1661.5 1353.5 L1664.4 1356.3 L1667.3 1359 L1670.2 1361.7 L1673.2 1364.4 L1676.2 1367 L1679.3 1369.6 L1682.3 1372.2 L1685.4 1374.7 L1688.5 1377.2 L1691.7 1379.7 L1694.9 1382.1 L1698.1 1384.5 L1701.3 1386.8 L1704.6 1389.1 L1707.9 1391.4 L1711.2 1393.6 L1714.6 1395.8 L1718 1397.9 L1721.4 1400 L1724.8 1402 L1728.3 1404 L1731.8 1405.9 L1735.3 1407.8 L1738.9 1409.6 L1742.5 1411.4 L1746.1 1413.2 L1749.7 1414.9 L1753.3 1416.5 L1757 1418.1 L1760.7 1419.6 L1764.4 1421.1 L1768.2 1422.5 L1771.9 1423.9 L1775.7 1425.2 L1779.5 1426.4 L1783.3 1427.6 L1787.2 1428.8 L1791 1429.9 L1794.9 1430.9 L1798.8 1431.9 L1802.6 1432.8 L1806.5 1433.7 L1810.5 1434.5 L1814.4 1435.2 L1818.3 1435.9 L1822.3 1436.5 L1826.2 1437.1 L1830.2 1437.6 L1834.2 1438.1 L1838.2 1438.5 L1842.1 1438.9 L1846.1 1439.2 L1850.1 1439.5 L1854.1 1439.7 L1858.1 1439.8 L1862.1 1439.9 L1866.1 1440 L1870.1 1440 L1920 1442.5 L1980 1443 L2134 1443" stroke="#7030a0" stroke-width="7.6" fill="none" stroke-linejoin="round" stroke-linecap="round"/>
<rect x="300.8" y="1689.3" width="1829.2" height="1387.2" fill="none" stroke="#000" stroke-width="8.6"/>
<path d="M276 3076.5H300.8M276 3007.1H300.8M276 2937.8H300.8M276 2868.4H300.8M276 2799.1H300.8M276 2729.7H300.8M276 2660.3H300.8M276 2591H300.8M276 2521.6H300.8M276 2452.3H300.8M276 2382.9H300.8M276 2313.5H300.8M276 2244.2H300.8M276 2174.8H300.8M276 2105.5H300.8M276 2036.1H300.8M276 1966.7H300.8M276 1897.4H300.8M276 1828H300.8M276 1758.7H300.8M276 1689.3H300.8M300.8 3076.5V3101M392.3 3076.5V3101M483.7 3076.5V3101M575.2 3076.5V3101M666.6 3076.5V3101M758.1 3076.5V3101M849.6 3076.5V3101M941 3076.5V3101M1032.5 3076.5V3101M1123.9 3076.5V3101M1215.4 3076.5V3101M1306.9 3076.5V3101M1398.3 3076.5V3101M1489.8 3076.5V3101M1581.2 3076.5V3101M1672.7 3076.5V3101M1764.2 3076.5V3101M1855.6 3076.5V3101M1947.1 3076.5V3101M2038.5 3076.5V3101M2130 3076.5V3101" stroke="#000" stroke-width="5.2" fill="none"/>
<path d="M663 3074.5 L700 3074.5 L745 3074 L748.8 3072.2 L752.2 3070 L755.5 3067.8 L758.8 3065.6 L762.1 3063.4 L765.4 3061.1 L768.6 3058.7 L771.9 3056.3 L775 3053.9 L778.2 3051.5 L781.4 3049.1 L784.5 3046.6 L787.6 3044.1 L790.7 3041.5 L793.8 3039 L796.8 3036.4 L799.8 3033.8 L802.9 3031.2 L805.9 3028.6 L808.9 3025.9 L811.9 3023.3 L814.8 3020.6 L817.8 3017.9 L820.8 3015.2 L823.7 3012.5 L826.7 3009.8 L829.6 3007.1 L832.5 3004.4 L835.5 3001.7 L838.4 2999 L841.3 2996.3 L844.2 2993.5 L847.2 2990.8 L850.1 2988.1 L853 2985.4 L856 2982.7 L858.9 2980 L861.8 2977.3 L864.8 2974.6 L867.8 2971.9 L870.7 2969.2 L873.7 2966.6 L876.7 2963.9 L879.7 2961.3 L882.7 2958.7 L885.8 2956.1 L888.8 2953.5 L891.9 2950.9 L894.9 2948.4 L898 2945.8 L901.1 2943.3 L904.3 2940.9 L907.4 2938.4 L910.6 2936 L913.8 2933.6 L917 2931.2 L920.2 2928.9 L923.5 2926.6 L926.8 2924.3 L930.1 2922 L933.4 2919.8 L936.8 2917.7 L940.2 2915.6 L943.6 2913.5 L947 2911.4 L950.5 2909.4 L953.9 2907.4 L957.4 2905.5 L961 2903.6 L964.5 2901.8 L968.1 2900 L971.7 2898.2 L975.3 2896.5 L978.9 2894.9 L982.6 2893.2 L986.2 2891.7 L989.9 2890.2 L993.6 2888.7 L997.4 2887.3 L1001.1 2885.9 L1004.9 2884.6 L1008.7 2883.3 L1012.5 2882.1 L1016.3 2881 L1020.2 2879.9 L1024 2878.9 L1027.9 2877.9 L1031.8 2877 L1035.7 2876.1 L1039.6 2875.3 L1043.5 2874.6 L1047.5 2873.9 L1051.4 2873.3 L1055.4 2872.8 L1059.4 2872.3 L1063.3 2871.9 L1067.3 2871.5 L1071.3 2871.2 L1075.3 2871 L1079.3 2870.8 L1083.3 2870.7 L1087.3 2870.6 L1091.3 2870.6 L1095.3 2870.6 L1099.2 2870.7 L1103.2 2870.8 L1107.2 2871 L1111.2 2871.3 L1115.2 2871.5 L1119.2 2871.9 L1123.2 2872.3 L1127.1 2872.7 L1131.1 2873.2 L1135.1 2873.7 L1139 2874.2 L1143 2874.8 L1146.9 2875.5 L1150.8 2876.2 L1154.8 2876.9 L1158.7 2877.7 L1162.6 2878.5 L1166.5 2879.3 L1170.4 2880.2 L1174.3 2881.1 L1178.2 2882.1 L1182 2883.1 L1185.9 2884.1 L1189.8 2885.1 L1193.6 2886.2 L1197.4 2887.4 L1201.3 2888.5 L1205.1 2889.7 L1208.9 2890.9 L1212.7 2892.2 L1216.5 2893.5 L1220.2 2894.8 L1224 2896.1 L1227.7 2897.5 L1231.5 2898.9 L1235.2 2900.3 L1239 2901.7 L1242.7 2903.2 L1246.4 2904.7 L1250.1 2906.2 L1253.8 2907.7 L1257.4 2909.3 L1261.1 2910.9 L1264.8 2912.5 L1268.4 2914.1 L1272 2915.8 L1275.7 2917.4 L1279.3 2919.1 L1282.9 2920.8 L1286.5 2922.5 L1290.1 2924.2 L1293.7 2926 L1297.3 2927.7 L1300.9 2929.5 L1304.5 2931.3 L1308 2933.1 L1311.6 2934.9 L1315.2 2936.7 L1318.7 2938.5 L1322.3 2940.3 L1325.8 2942.2 L1329.4 2944 L1332.9 2945.9 L1336.4 2947.8 L1340 2949.6 L1343.5 2951.5 L1347 2953.4 L1350.5 2955.3 L1354.1 2957.1 L1357.6 2959 L1361.1 2960.9 L1364.6 2962.8 L1368.2 2964.7 L1371.7 2966.6 L1375.2 2968.5 L1378.7 2970.4 L1382.2 2972.2 L1385.8 2974.1 L1389.3 2976 L1392.8 2977.9 L1396.3 2979.7 L1399.9 2981.6 L1403.4 2983.5 L1407 2985.3 L1410.5 2987.2 L1414.1 2989 L1417.6 2990.8 L1421.2 2992.6 L1424.7 2994.4 L1428.3 2996.2 L1431.9 2998 L1435.5 2999.8 L1439 3001.5 L1442.6 3003.3 L1446.2 3005 L1449.9 3006.7 L1453.5 3008.4 L1457.1 3010.1 L1460.7 3011.7 L1464.4 3013.4 L1468 3015 L1471.7 3016.6 L1475.4 3018.2 L1479 3019.7 L1482.7 3021.3 L1486.4 3022.8 L1490.1 3024.3 L1493.8 3025.7 L1497.6 3027.2 L1501.3 3028.6 L1505.1 3030 L1508.8 3031.3 L1512.6 3032.6 L1516.4 3033.9 L1520.2 3035.2 L1523.9 3036.5 L1527.7 3037.7 L1531.6 3038.9 L1535.4 3040.1 L1539.2 3041.2 L1543 3042.4 L1546.9 3043.5 L1550.7 3044.6 L1554.6 3045.6 L1558.4 3046.6 L1562.3 3047.7 L1566.2 3048.6 L1570 3049.6 L1573.9 3050.5 L1577.8 3051.5 L1581.7 3052.3 L1585.6 3053.2 L1589.5 3054.1 L1593.4 3054.9 L1597.3 3055.7 L1601.3 3056.5 L1605.2 3057.2 L1609.1 3058 L1613 3058.7 L1617 3059.4 L1620.9 3060 L1624.8 3060.7 L1628.8 3061.3 L1632.7 3061.9 L1636.7 3062.5 L1640.6 3063.1 L1644.6 3063.7 L1648.6 3064.2 L1652.5 3064.7 L1656.5 3065.2 L1660.4 3065.7 L1664.4 3066.1 L1668.4 3066.6 L1672.4 3067 L1676.3 3067.4 L1680.3 3067.8 L1684.3 3068.2 L1688.3 3068.5 L1692.3 3068.8 L1696.2 3069.2 L1700.2 3069.5 L1704.2 3069.7 L1708.2 3070 L1712.2 3070.3 L1716.2 3070.5 L1720.2 3070.7 L1724.1 3070.9 L1728.1 3071.1 L1732.1 3071.3 L1736.1 3071.4 L1740.1 3071.6 L1744.1 3071.7 L1748.1 3071.8 L1752.1 3071.9 L1756.1 3072 L1760.1 3072.1 L1764.1 3072.1 L1768.1 3072.2 L1772.1 3072.2 L1776.1 3072.2 L1780.1 3072.2 L1850 3073 L2128 3073.5" stroke="#ff6a00" stroke-width="7" fill="none" stroke-linejoin="round" stroke-linecap="round"/>
<path d="M717.9 3069.4 L721.1 3067 L724.1 3064.4 L727.2 3061.9 L730.2 3059.3 L733.3 3056.7 L736.2 3054 L739.2 3051.3 L742.1 3048.6 L745 3045.9 L747.9 3043.1 L750.7 3040.3 L753.5 3037.5 L756.3 3034.6 L759.1 3031.7 L761.8 3028.8 L764.5 3025.9 L767.2 3022.9 L769.8 3019.9 L772.5 3016.9 L775.1 3013.9 L777.6 3010.9 L780.2 3007.8 L782.7 3004.7 L785.2 3001.6 L787.7 2998.5 L790.2 2995.3 L792.6 2992.2 L795 2989 L797.4 2985.8 L799.8 2982.6 L802.2 2979.4 L804.5 2976.2 L806.8 2972.9 L809.1 2969.7 L811.4 2966.4 L813.7 2963.1 L816 2959.9 L818.3 2956.6 L820.5 2953.3 L822.7 2950 L825 2946.7 L827.2 2943.3 L829.4 2940 L831.6 2936.7 L833.8 2933.4 L836 2930 L838.2 2926.7 L840.4 2923.4 L842.5 2920 L844.7 2916.7 L846.9 2913.3 L849.1 2910 L851.3 2906.7 L853.5 2903.3 L855.6 2900 L857.8 2896.6 L860 2893.3 L862.2 2890 L864.4 2886.7 L866.6 2883.3 L868.9 2880 L871.1 2876.7 L873.3 2873.4 L875.6 2870.1 L877.8 2866.8 L880.1 2863.5 L882.4 2860.3 L884.7 2857 L887 2853.8 L889.3 2850.5 L891.6 2847.3 L894 2844 L896.3 2840.8 L898.7 2837.6 L901.1 2834.4 L903.5 2831.3 L906 2828.1 L908.4 2825 L910.9 2821.8 L913.4 2818.7 L915.9 2815.6 L918.4 2812.5 L921 2809.5 L923.6 2806.4 L926.2 2803.4 L928.8 2800.4 L931.4 2797.4 L934.1 2794.5 L936.8 2791.5 L939.6 2788.6 L942.3 2785.7 L945.1 2782.9 L947.9 2780.1 L950.8 2777.3 L953.7 2774.5 L956.6 2771.8 L959.6 2769.1 L962.5 2766.5 L965.6 2763.9 L968.6 2761.3 L971.7 2758.8 L974.9 2756.4 L978.1 2754 L981.3 2751.6 L984.6 2749.3 L987.9 2747.1 L991.3 2745 L994.7 2742.9 L998.1 2740.9 L1001.6 2739 L1005.2 2737.2 L1008.8 2735.4 L1012.4 2733.8 L1016.1 2732.2 L1019.8 2730.8 L1023.5 2729.4 L1027.3 2728.1 L1031.1 2726.9 L1034.9 2725.8 L1038.8 2724.8 L1042.7 2723.8 L1046.6 2723 L1050.5 2722.3 L1054.4 2721.6 L1058.4 2721 L1062.3 2720.5 L1066.3 2720.1 L1070.3 2719.8 L1074.3 2719.6 L1078.3 2719.5 L1082.2 2719.4 L1086.2 2719.4 L1090.2 2719.5 L1094.2 2719.7 L1098.2 2719.9 L1102.2 2720.2 L1106.1 2720.6 L1110.1 2721.1 L1114.1 2721.6 L1118 2722.3 L1121.9 2722.9 L1125.8 2723.7 L1129.7 2724.5 L1133.6 2725.4 L1137.5 2726.3 L1141.4 2727.4 L1145.2 2728.4 L1149 2729.6 L1152.8 2730.8 L1156.6 2732 L1160.4 2733.3 L1164.1 2734.7 L1167.9 2736.1 L1171.6 2737.6 L1175.3 2739.2 L1178.9 2740.8 L1182.5 2742.4 L1186.1 2744.1 L1189.7 2745.9 L1193.3 2747.7 L1196.8 2749.6 L1200.3 2751.5 L1203.8 2753.4 L1207.3 2755.4 L1210.7 2757.4 L1214.1 2759.5 L1217.5 2761.6 L1220.8 2763.8 L1224.2 2766 L1227.5 2768.2 L1230.8 2770.5 L1234 2772.8 L1237.3 2775.1 L1240.5 2777.4 L1243.7 2779.8 L1246.9 2782.2 L1250 2784.7 L1253.2 2787.1 L1256.3 2789.6 L1259.4 2792.1 L1262.5 2794.6 L1265.6 2797.2 L1268.6 2799.7 L1271.7 2802.3 L1274.7 2804.9 L1277.7 2807.5 L1280.7 2810.1 L1283.7 2812.8 L1286.7 2815.4 L1289.7 2818.1 L1292.7 2820.8 L1295.6 2823.4 L1298.5 2826.1 L1301.5 2828.8 L1304.4 2831.6 L1307.3 2834.3 L1310.2 2837 L1313.1 2839.7 L1316.1 2842.5 L1319 2845.2 L1321.8 2847.9 L1324.7 2850.7 L1327.6 2853.4 L1330.5 2856.2 L1333.4 2858.9 L1336.3 2861.7 L1339.2 2864.4 L1342.1 2867.2 L1345 2869.9 L1347.9 2872.7 L1350.8 2875.4 L1353.7 2878.1 L1356.6 2880.8 L1359.6 2883.5 L1362.5 2886.2 L1365.4 2888.9 L1368.4 2891.6 L1371.4 2894.3 L1374.3 2897 L1377.3 2899.6 L1380.3 2902.3 L1383.3 2904.9 L1386.3 2907.5 L1389.3 2910.1 L1392.4 2912.7 L1395.4 2915.3 L1398.4 2917.9 L1401.5 2920.4 L1404.6 2923 L1407.7 2925.5 L1410.8 2928 L1413.9 2930.5 L1417 2933 L1420.1 2935.5 L1423.3 2937.9 L1426.4 2940.3 L1429.6 2942.8 L1432.8 2945.2 L1436 2947.5 L1439.2 2949.9 L1442.4 2952.3 L1445.7 2954.6 L1448.9 2956.9 L1452.2 2959.2 L1455.5 2961.5 L1458.8 2963.7 L1462.1 2966 L1465.4 2968.2 L1468.7 2970.4 L1472.1 2972.5 L1475.4 2974.7 L1478.8 2976.8 L1482.2 2978.9 L1485.6 2981 L1489 2983.1 L1492.5 2985.1 L1495.9 2987.1 L1499.3 2989.1 L1502.8 2991.1 L1506.3 2993.1 L1509.8 2995 L1513.3 2996.9 L1516.8 2998.8 L1520.3 3000.7 L1523.9 3002.5 L1527.4 3004.3 L1531 3006.1 L1534.5 3007.9 L1538.1 3009.6 L1541.7 3011.4 L1545.3 3013.1 L1548.9 3014.8 L1552.6 3016.4 L1556.2 3018.1 L1559.9 3019.7 L1563.5 3021.3 L1567.2 3022.9 L1570.9 3024.4 L1574.5 3025.9 L1578.2 3027.4 L1581.9 3028.9 L1585.7 3030.4 L1589.4 3031.8 L1593.1 3033.2 L1596.9 3034.6 L1600.6 3035.9 L1604.4 3037.3 L1608.1 3038.6 L1611.9 3039.9 L1615.7 3041.1 L1619.5 3042.4 L1623.3 3043.6 L1627.1 3044.8 L1630.9 3045.9 L1634.7 3047.1 L1638.6 3048.2 L1642.4 3049.3 L1646.3 3050.3 L1650.1 3051.4 L1654 3052.4 L1657.8 3053.4 L1661.7 3054.3 L1665.6 3055.3 L1669.5 3056.2 L1673.4 3057 L1677.3 3057.9 L1681.2 3058.7 L1685.1 3059.5 L1689 3060.3 L1692.9 3061 L1696.8 3061.8 L1700.8 3062.5 L1704.7 3063.1 L1708.6 3063.7 L1712.6 3064.4 L1716.5 3064.9 L1720.5 3065.5 L1724.4 3066 L1728.4 3066.5 L1732.4 3067 L1736.3 3067.4 L1740.3 3067.8 L1744.3 3068.2 L1748.2 3068.5 L1752.2 3068.8 L1756.2 3069.1 L1760.2 3069.4 L1764.2 3069.6 L1768.2 3069.8 L1772.1 3070 L1776.1 3070.1 L1780.1 3070.2 L1784.1 3070.3 L1788.1 3070.3 L1792.1 3070.3 L1796.1 3070.3 L1800.1 3070.3 L1880 3071.5 L2128 3072" stroke="#00a844" stroke-width="7.6" fill="none" stroke-linejoin="round" stroke-linecap="round"/>
<path d="M665.1 3060 L672 3067 L678 3060 L685 3068 L693 3071 L700 3066 L708 3058 L716 3050 L718.7 3047 L721.2 3043.9 L723.7 3040.8 L726.2 3037.7 L728.6 3034.5 L731 3031.3 L733.3 3028.1 L735.7 3024.8 L737.9 3021.5 L740.2 3018.2 L742.3 3014.9 L744.5 3011.5 L746.6 3008.1 L748.7 3004.7 L750.7 3001.3 L752.7 2997.8 L754.7 2994.3 L756.7 2990.8 L758.6 2987.3 L760.4 2983.8 L762.3 2980.3 L764.1 2976.7 L765.9 2973.1 L767.6 2969.5 L769.3 2965.9 L771 2962.3 L772.7 2958.7 L774.4 2955 L776 2951.4 L777.6 2947.7 L779.2 2944 L780.7 2940.4 L782.3 2936.7 L783.8 2933 L785.3 2929.3 L786.8 2925.6 L788.3 2921.9 L789.7 2918.2 L791.2 2914.4 L792.6 2910.7 L794 2907 L795.5 2903.2 L796.9 2899.5 L798.3 2895.8 L799.7 2892 L801.1 2888.3 L802.5 2884.5 L803.9 2880.8 L805.3 2877.1 L806.7 2873.3 L808.1 2869.6 L809.4 2865.8 L810.8 2862.1 L812.2 2858.3 L813.6 2854.6 L815 2850.8 L816.3 2847.1 L817.7 2843.3 L819.1 2839.6 L820.5 2835.8 L821.8 2832.1 L823.2 2828.3 L824.6 2824.5 L825.9 2820.8 L827.3 2817 L828.7 2813.3 L830 2809.5 L831.4 2805.8 L832.8 2802 L834.1 2798.3 L835.5 2794.5 L836.9 2790.8 L838.2 2787 L839.6 2783.2 L841 2779.5 L842.3 2775.7 L843.7 2772 L845.1 2768.2 L846.5 2764.5 L847.8 2760.7 L849.2 2757 L850.6 2753.2 L852 2749.5 L853.3 2745.7 L854.7 2742 L856.1 2738.2 L857.5 2734.5 L858.9 2730.7 L860.3 2727 L861.7 2723.3 L863.1 2719.5 L864.5 2715.8 L865.9 2712 L867.3 2708.3 L868.8 2704.6 L870.2 2700.8 L871.6 2697.1 L873 2693.4 L874.5 2689.7 L875.9 2685.9 L877.4 2682.2 L878.8 2678.5 L880.3 2674.8 L881.7 2671 L883.2 2667.3 L884.7 2663.6 L886.2 2659.9 L887.7 2656.2 L889.2 2652.5 L890.7 2648.8 L892.2 2645.1 L893.7 2641.4 L895.2 2637.7 L896.8 2634 L898.3 2630.3 L899.9 2626.7 L901.5 2623 L903 2619.3 L904.6 2615.7 L906.2 2612 L907.9 2608.3 L909.5 2604.7 L911.1 2601.1 L912.8 2597.4 L914.4 2593.8 L916.1 2590.2 L917.8 2586.5 L919.5 2582.9 L921.2 2579.3 L923 2575.7 L924.7 2572.1 L926.4 2568.5 L928.2 2564.9 L930 2561.4 L931.8 2557.8 L933.6 2554.2 L935.4 2550.7 L937.2 2547.1 L939.1 2543.6 L940.9 2540 L942.8 2536.5 L944.7 2533 L946.6 2529.4 L948.5 2525.9 L950.4 2522.4 L952.3 2518.9 L954.2 2515.4 L956.2 2512 L958.2 2508.5 L960.2 2505 L962.2 2501.6 L964.2 2498.1 L966.3 2494.7 L968.4 2491.3 L970.5 2487.9 L972.7 2484.6 L974.9 2481.2 L977.1 2477.9 L979.4 2474.6 L981.7 2471.4 L984 2468.1 L986.4 2464.9 L988.8 2461.7 L991.2 2458.6 L993.8 2455.5 L996.3 2452.4 L999 2449.4 L1001.7 2446.5 L1004.4 2443.6 L1007.3 2440.8 L1010.2 2438 L1013.2 2435.4 L1016.3 2432.9 L1019.5 2430.5 L1022.8 2428.2 L1026.1 2426.1 L1029.6 2424.1 L1033.2 2422.2 L1036.8 2420.6 L1040.5 2419 L1044.2 2417.7 L1048 2416.5 L1051.9 2415.5 L1055.8 2414.6 L1059.7 2413.9 L1063.7 2413.3 L1067.7 2412.9 L1071.7 2412.7 L1075.7 2412.6 L1079.6 2412.7 L1083.6 2412.9 L1087.6 2413.2 L1091.6 2413.7 L1095.5 2414.3 L1099.5 2415 L1103.4 2415.8 L1107.3 2416.7 L1111.1 2417.8 L1114.9 2419 L1118.7 2420.2 L1122.5 2421.6 L1126.2 2423 L1129.9 2424.6 L1133.5 2426.2 L1137.1 2428 L1140.7 2429.8 L1144.2 2431.7 L1147.7 2433.6 L1151.1 2435.7 L1154.5 2437.8 L1157.8 2440 L1161.1 2442.3 L1164.4 2444.6 L1167.6 2447 L1170.7 2449.5 L1173.8 2452 L1176.9 2454.5 L1179.9 2457.2 L1182.9 2459.8 L1185.8 2462.6 L1188.7 2465.3 L1191.5 2468.1 L1194.4 2470.9 L1197.1 2473.8 L1199.9 2476.7 L1202.6 2479.7 L1205.3 2482.6 L1207.9 2485.6 L1210.5 2488.6 L1213.1 2491.7 L1215.7 2494.7 L1218.2 2497.8 L1220.8 2500.9 L1223.2 2504 L1225.7 2507.2 L1228.2 2510.3 L1230.6 2513.5 L1233.1 2516.6 L1235.5 2519.8 L1237.9 2523 L1240.3 2526.2 L1242.7 2529.4 L1245 2532.7 L1247.4 2535.9 L1249.7 2539.1 L1252 2542.4 L1254.3 2545.6 L1256.6 2548.9 L1258.9 2552.2 L1261.2 2555.5 L1263.5 2558.7 L1265.7 2562 L1268 2565.3 L1270.2 2568.7 L1272.4 2572 L1274.7 2575.3 L1276.9 2578.6 L1279.1 2582 L1281.3 2585.3 L1283.4 2588.7 L1285.6 2592 L1287.8 2595.4 L1289.9 2598.7 L1292.1 2602.1 L1294.2 2605.5 L1296.4 2608.8 L1298.5 2612.2 L1300.7 2615.6 L1302.8 2619 L1304.9 2622.4 L1307 2625.7 L1309.1 2629.1 L1311.2 2632.5 L1313.3 2635.9 L1315.4 2639.3 L1317.5 2642.7 L1319.6 2646.1 L1321.7 2649.5 L1323.8 2652.9 L1325.9 2656.3 L1328 2659.7 L1330.1 2663.1 L1332.2 2666.6 L1334.3 2670 L1336.3 2673.4 L1338.4 2676.8 L1340.5 2680.2 L1342.6 2683.6 L1344.6 2687 L1346.7 2690.4 L1348.8 2693.9 L1350.9 2697.3 L1353 2700.7 L1355 2704.1 L1357.1 2707.5 L1359.2 2710.9 L1361.3 2714.3 L1363.3 2717.7 L1365.4 2721.1 L1367.5 2724.6 L1369.6 2728 L1371.7 2731.4 L1373.8 2734.8 L1375.9 2738.2 L1378 2741.6 L1380.1 2745 L1382.2 2748.4 L1384.3 2751.8 L1386.4 2755.2 L1388.5 2758.6 L1390.6 2761.9 L1392.7 2765.3 L1394.9 2768.7 L1397 2772.1 L1399.1 2775.5 L1401.3 2778.8 L1403.4 2782.2 L1405.6 2785.6 L1407.7 2788.9 L1409.9 2792.3 L1412.1 2795.6 L1414.3 2799 L1416.5 2802.3 L1418.7 2805.7 L1420.9 2809 L1423.1 2812.3 L1425.3 2815.6 L1427.6 2818.9 L1429.8 2822.2 L1432.1 2825.5 L1434.4 2828.8 L1436.7 2832.1 L1439 2835.3 L1441.3 2838.6 L1443.6 2841.9 L1445.9 2845.1 L1448.3 2848.3 L1450.6 2851.5 L1453 2854.8 L1455.4 2858 L1457.8 2861.2 L1460.2 2864.3 L1462.7 2867.5 L1465.1 2870.7 L1467.6 2873.8 L1470.1 2876.9 L1472.5 2880.1 L1475.1 2883.2 L1477.6 2886.3 L1480.1 2889.3 L1482.7 2892.4 L1485.3 2895.5 L1487.9 2898.5 L1490.5 2901.5 L1493.1 2904.5 L1495.8 2907.5 L1498.4 2910.5 L1501.1 2913.4 L1503.8 2916.4 L1506.5 2919.3 L1509.3 2922.2 L1512.1 2925.1 L1514.8 2928 L1517.6 2930.8 L1520.5 2933.6 L1523.3 2936.5 L1526.2 2939.2 L1529 2942 L1531.9 2944.8 L1534.9 2947.5 L1537.8 2950.2 L1540.7 2952.9 L1543.7 2955.6 L1546.7 2958.2 L1549.7 2960.8 L1552.8 2963.4 L1555.8 2966 L1558.9 2968.6 L1562 2971.1 L1565.1 2973.6 L1568.2 2976.1 L1571.4 2978.6 L1574.5 2981 L1577.7 2983.4 L1580.9 2985.8 L1584.1 2988.2 L1587.4 2990.5 L1590.6 2992.8 L1593.9 2995.1 L1597.2 2997.4 L1600.5 2999.6 L1603.8 3001.8 L1607.2 3004 L1610.5 3006.1 L1613.9 3008.3 L1617.3 3010.4 L1620.8 3012.4 L1624.2 3014.5 L1627.6 3016.5 L1631.1 3018.4 L1634.6 3020.4 L1638.1 3022.3 L1641.6 3024.2 L1645.2 3026 L1648.7 3027.8 L1652.3 3029.6 L1655.9 3031.4 L1659.5 3033.1 L1663.1 3034.8 L1666.8 3036.4 L1670.4 3038 L1674.1 3039.6 L1677.8 3041.1 L1681.5 3042.6 L1685.2 3044.1 L1689 3045.5 L1692.7 3046.9 L1696.5 3048.2 L1700.2 3049.5 L1704 3050.8 L1707.8 3052 L1711.7 3053.2 L1715.5 3054.4 L1719.3 3055.5 L1723.2 3056.5 L1727 3057.5 L1730.9 3058.5 L1734.8 3059.4 L1738.7 3060.3 L1742.6 3061.2 L1746.5 3062 L1750.4 3062.7 L1754.4 3063.4 L1758.3 3064.1 L1762.3 3064.7 L1766.2 3065.2 L1770.2 3065.7 L1774.2 3066.2 L1778.1 3066.6 L1782.1 3067 L1786.1 3067.3 L1790.1 3067.6 L1794.1 3067.8 L1798.1 3067.9 L1802.1 3068.1 L1806 3068.1 L1810 3068.2 L1814 3068.1 L1818 3068 L1822 3067.9 L1826 3067.7 L1830 3067.5 L1900 3070 L2128 3072" stroke="#7f00ff" stroke-width="7.6" fill="none" stroke-linejoin="round" stroke-linecap="round"/>
<path d="M665 3020 L666 3046 L673 3046 L679.3 3038 L686 3040 L693.5 3046 L702.5 3040 L710.5 3027 L712.8 3023.7 L714.8 3020.2 L716.8 3016.7 L718.8 3013.3 L720.7 3009.8 L722.6 3006.3 L724.5 3002.8 L726.4 2999.3 L728.3 2995.7 L730.2 2992.2 L732 2988.7 L733.8 2985.1 L735.6 2981.5 L737.4 2978 L739.2 2974.4 L741 2970.8 L742.7 2967.2 L744.4 2963.6 L746.1 2960 L747.8 2956.4 L749.5 2952.8 L751.2 2949.1 L752.8 2945.5 L754.5 2941.9 L756.1 2938.2 L757.7 2934.6 L759.3 2930.9 L760.8 2927.2 L762.4 2923.6 L764 2919.9 L765.5 2916.2 L767 2912.5 L768.5 2908.8 L770 2905.1 L771.5 2901.4 L773 2897.7 L774.4 2894 L775.9 2890.2 L777.3 2886.5 L778.7 2882.8 L780.1 2879 L781.5 2875.3 L782.9 2871.5 L784.3 2867.8 L785.6 2864 L787 2860.3 L788.3 2856.5 L789.7 2852.8 L791 2849 L792.3 2845.2 L793.6 2841.4 L794.9 2837.7 L796.2 2833.9 L797.4 2830.1 L798.7 2826.3 L800 2822.5 L801.2 2818.7 L802.4 2814.9 L803.7 2811.1 L804.9 2807.3 L806.1 2803.5 L807.3 2799.7 L808.5 2795.9 L809.7 2792.1 L810.9 2788.3 L812.1 2784.5 L813.2 2780.7 L814.4 2776.8 L815.6 2773 L816.7 2769.2 L817.9 2765.4 L819 2761.5 L820.2 2757.7 L821.3 2753.9 L822.4 2750.1 L823.5 2746.2 L824.7 2742.4 L825.8 2738.6 L826.9 2734.7 L828 2730.9 L829.1 2727 L830.2 2723.2 L831.3 2719.4 L832.4 2715.5 L833.4 2711.7 L834.5 2707.8 L835.6 2704 L836.7 2700.2 L837.8 2696.3 L838.9 2692.5 L839.9 2688.6 L841 2684.8 L842.1 2680.9 L843.1 2677.1 L844.2 2673.2 L845.3 2669.4 L846.3 2665.5 L847.4 2661.7 L848.5 2657.8 L849.5 2654 L850.6 2650.1 L851.7 2646.3 L852.7 2642.4 L853.8 2638.6 L854.9 2634.8 L856 2630.9 L857 2627.1 L858.1 2623.2 L859.2 2619.4 L860.3 2615.5 L861.3 2611.7 L862.4 2607.8 L863.5 2604 L864.6 2600.2 L865.7 2596.3 L866.8 2592.5 L867.9 2588.6 L869 2584.8 L870.1 2581 L871.2 2577.1 L872.3 2573.3 L873.4 2569.5 L874.6 2565.6 L875.7 2561.8 L876.8 2558 L878 2554.1 L879.1 2550.3 L880.3 2546.5 L881.4 2542.7 L882.6 2538.9 L883.8 2535 L884.9 2531.2 L886.1 2527.4 L887.3 2523.6 L888.5 2519.8 L889.7 2516 L890.9 2512.2 L892.2 2508.4 L893.4 2504.6 L894.6 2500.8 L895.9 2497 L897.1 2493.2 L898.4 2489.4 L899.7 2485.6 L900.9 2481.8 L902.2 2478.1 L903.5 2474.3 L904.8 2470.5 L906.1 2466.7 L907.4 2463 L908.8 2459.2 L910.1 2455.4 L911.5 2451.7 L912.8 2447.9 L914.2 2444.2 L915.6 2440.4 L917 2436.7 L918.4 2433 L919.8 2429.2 L921.3 2425.5 L922.7 2421.8 L924.2 2418.1 L925.7 2414.4 L927.3 2410.7 L928.8 2407 L930.4 2403.4 L932 2399.7 L933.7 2396.1 L935.3 2392.4 L937 2388.8 L938.8 2385.2 L940.5 2381.7 L942.3 2378.1 L944.2 2374.5 L946 2371 L947.9 2367.5 L949.8 2364 L951.7 2360.5 L953.6 2357 L955.6 2353.5 L957.5 2350 L959.4 2346.5 L961.4 2343 L963.3 2339.5 L965.2 2336 L967.1 2332.5 L969 2328.9 L970.9 2325.4 L972.7 2321.9 L974.6 2318.4 L976.4 2314.8 L978.3 2311.3 L980.2 2307.8 L982.1 2304.2 L984 2300.7 L985.9 2297.2 L987.8 2293.7 L989.8 2290.2 L991.7 2286.8 L993.7 2283.3 L995.8 2279.9 L997.9 2276.5 L1000 2273.1 L1002.2 2269.8 L1004.4 2266.4 L1006.6 2263.2 L1009 2259.9 L1011.4 2256.7 L1013.9 2253.6 L1016.5 2250.6 L1019.3 2247.7 L1022.2 2245 L1025.3 2242.4 L1028.5 2240.1 L1031.9 2238 L1035.4 2236.2 L1039.1 2234.6 L1042.9 2233.3 L1046.7 2232.2 L1050.6 2231.5 L1054.6 2231 L1058.6 2230.8 L1062.6 2230.9 L1066.6 2231.2 L1070.5 2231.9 L1074.4 2232.9 L1078.2 2234.1 L1081.9 2235.5 L1085.5 2237.2 L1089.1 2238.9 L1092.6 2240.8 L1096.1 2242.8 L1099.5 2244.9 L1102.9 2247.1 L1106.2 2249.3 L1109.5 2251.5 L1112.8 2253.8 L1116.1 2256 L1119.4 2258.3 L1122.7 2260.5 L1126 2262.8 L1129.3 2265.1 L1132.5 2267.3 L1135.8 2269.7 L1139 2272 L1142.2 2274.4 L1145.4 2276.8 L1148.5 2279.3 L1151.6 2281.8 L1154.7 2284.4 L1157.7 2287 L1160.7 2289.6 L1163.7 2292.3 L1166.6 2295 L1169.5 2297.8 L1172.3 2300.6 L1175.2 2303.4 L1178 2306.2 L1180.7 2309.1 L1183.4 2312 L1186.1 2315 L1188.8 2318 L1191.4 2321 L1194 2324 L1196.5 2327.1 L1199.1 2330.2 L1201.6 2333.3 L1204 2336.5 L1206.5 2339.6 L1208.9 2342.8 L1211.2 2346 L1213.6 2349.2 L1215.9 2352.5 L1218.2 2355.8 L1220.5 2359 L1222.7 2362.4 L1224.9 2365.7 L1227.1 2369 L1229.3 2372.4 L1231.4 2375.7 L1233.6 2379.1 L1235.7 2382.5 L1237.8 2385.9 L1239.8 2389.3 L1241.9 2392.8 L1243.9 2396.2 L1245.9 2399.6 L1247.9 2403.1 L1249.9 2406.6 L1251.8 2410.1 L1253.8 2413.5 L1255.7 2417 L1257.6 2420.5 L1259.5 2424 L1261.4 2427.6 L1263.3 2431.1 L1265.2 2434.6 L1267 2438.1 L1268.9 2441.7 L1270.8 2445.2 L1272.6 2448.8 L1274.4 2452.3 L1276.3 2455.9 L1278.1 2459.4 L1279.9 2463 L1281.7 2466.5 L1283.5 2470.1 L1285.4 2473.6 L1287.2 2477.2 L1289 2480.7 L1290.8 2484.3 L1292.6 2487.9 L1294.4 2491.4 L1296.2 2495 L1298 2498.5 L1299.9 2502.1 L1301.7 2505.6 L1303.5 2509.2 L1305.3 2512.8 L1307.1 2516.3 L1309 2519.9 L1310.8 2523.4 L1312.6 2527 L1314.4 2530.5 L1316.3 2534.1 L1318.1 2537.6 L1319.9 2541.2 L1321.7 2544.7 L1323.6 2548.3 L1325.4 2551.8 L1327.3 2555.4 L1329.1 2558.9 L1330.9 2562.4 L1332.8 2566 L1334.6 2569.5 L1336.5 2573.1 L1338.3 2576.6 L1340.2 2580.1 L1342.1 2583.7 L1343.9 2587.2 L1345.8 2590.7 L1347.6 2594.3 L1349.5 2597.8 L1351.4 2601.3 L1353.3 2604.8 L1355.2 2608.3 L1357 2611.9 L1358.9 2615.4 L1360.8 2618.9 L1362.7 2622.4 L1364.6 2625.9 L1366.5 2629.4 L1368.5 2632.9 L1370.4 2636.4 L1372.3 2639.9 L1374.2 2643.4 L1376.2 2646.9 L1378.1 2650.4 L1380 2653.9 L1382 2657.4 L1383.9 2660.9 L1385.9 2664.4 L1387.8 2667.8 L1389.8 2671.3 L1391.8 2674.8 L1393.8 2678.3 L1395.7 2681.7 L1397.7 2685.2 L1399.7 2688.6 L1401.7 2692.1 L1403.7 2695.6 L1405.7 2699 L1407.8 2702.4 L1409.8 2705.9 L1411.8 2709.3 L1413.9 2712.8 L1415.9 2716.2 L1417.9 2719.6 L1420 2723 L1422.1 2726.5 L1424.1 2729.9 L1426.2 2733.3 L1428.3 2736.7 L1430.4 2740.1 L1432.5 2743.5 L1434.6 2746.9 L1436.7 2750.3 L1438.8 2753.7 L1440.9 2757 L1443.1 2760.4 L1445.2 2763.8 L1447.4 2767.1 L1449.5 2770.5 L1451.7 2773.9 L1453.9 2777.2 L1456 2780.6 L1458.2 2783.9 L1460.4 2787.2 L1462.6 2790.6 L1464.8 2793.9 L1467 2797.2 L1469.3 2800.5 L1471.5 2803.8 L1473.7 2807.2 L1476 2810.4 L1478.3 2813.7 L1480.5 2817 L1482.8 2820.3 L1485.1 2823.6 L1487.4 2826.8 L1489.7 2830.1 L1492 2833.4 L1494.3 2836.6 L1496.7 2839.8 L1499 2843.1 L1501.4 2846.3 L1503.7 2849.5 L1506.1 2852.7 L1508.5 2855.9 L1510.9 2859.1 L1513.3 2862.3 L1515.8 2865.4 L1518.2 2868.6 L1520.7 2871.8 L1523.1 2874.9 L1525.6 2878 L1528.1 2881.1 L1530.6 2884.3 L1533.1 2887.3 L1535.7 2890.4 L1538.2 2893.5 L1540.8 2896.6 L1543.4 2899.6 L1545.9 2902.7 L1548.6 2905.7 L1551.2 2908.7 L1553.8 2911.7 L1556.5 2914.7 L1559.1 2917.7 L1561.8 2920.6 L1564.5 2923.5 L1567.2 2926.5 L1570 2929.4 L1572.7 2932.3 L1575.5 2935.2 L1578.3 2938 L1581.1 2940.9 L1583.9 2943.7 L1586.7 2946.5 L1589.6 2949.3 L1592.5 2952.1 L1595.4 2954.8 L1598.3 2957.5 L1601.2 2960.3 L1604.1 2963 L1607.1 2965.6 L1610.1 2968.3 L1613.1 2970.9 L1616.1 2973.5 L1619.2 2976.1 L1622.2 2978.6 L1625.3 2981.2 L1628.4 2983.7 L1631.6 2986.2 L1634.7 2988.6 L1637.9 2991.1 L1641.1 2993.5 L1644.3 2995.8 L1647.5 2998.2 L1650.8 3000.5 L1654 3002.8 L1657.3 3005.1 L1660.6 3007.3 L1664 3009.5 L1667.3 3011.6 L1670.7 3013.8 L1674.1 3015.9 L1677.5 3017.9 L1680.9 3020 L1684.4 3022 L1687.9 3023.9 L1691.4 3025.9 L1694.9 3027.7 L1698.4 3029.6 L1702 3031.4 L1705.6 3033.2 L1709.2 3034.9 L1712.8 3036.6 L1716.4 3038.3 L1720.1 3039.9 L1723.8 3041.4 L1727.4 3043 L1731.1 3044.4 L1734.9 3045.9 L1738.6 3047.3 L1742.4 3048.6 L1746.1 3049.9 L1749.9 3051.2 L1753.7 3052.4 L1757.6 3053.6 L1761.4 3054.7 L1765.2 3055.8 L1769.1 3056.8 L1773 3057.8 L1776.8 3058.7 L1780.7 3059.6 L1784.6 3060.4 L1788.6 3061.2 L1792.5 3062 L1796.4 3062.7 L1800.4 3063.3 L1804.3 3063.9 L1808.3 3064.4 L1812.2 3064.9 L1816.2 3065.4 L1820.2 3065.8 L1824.1 3066.1 L1828.1 3066.4 L1832.1 3066.7 L1836.1 3066.9 L1840.1 3067 L1844.1 3067.1 L1848.1 3067.2 L1852.1 3067.2 L1856.1 3067.2 L1860.1 3067.1 L1920 3071 L2000 3073.5 L2128 3074.5" stroke="#ff0000" stroke-width="7.6" fill="none" stroke-linejoin="round" stroke-linecap="round"/>
<path d="M1736 1277V588" stroke="#000" stroke-width="8"/>
<path d="M1736 556L1753 591H1719Z" fill="#000"/>
<path d="M1616.5 2923V2234" stroke="#111" stroke-width="9.5"/>
<path d="M1616.5 2203L1635 2238H1598Z" fill="#000"/>
<text x="224" y="1465.2" font-size="66" fill="#000" text-anchor="end" textLength="86" lengthAdjust="spacingAndGlyphs">0.0</text>
<text x="224" y="1186.7" font-size="66" fill="#000" text-anchor="end" textLength="86" lengthAdjust="spacingAndGlyphs">0.5</text>
<text x="224" y="908.3" font-size="66" fill="#000" text-anchor="end" textLength="86" lengthAdjust="spacingAndGlyphs">1.0</text>
<text x="224" y="629.8" font-size="66" fill="#000" text-anchor="end" textLength="86" lengthAdjust="spacingAndGlyphs">1.5</text>
<text x="224" y="351.4" font-size="66" fill="#000" text-anchor="end" textLength="86" lengthAdjust="spacingAndGlyphs">2.0</text>
<text x="224" y="72.9" font-size="66" fill="#000" text-anchor="end" textLength="86" lengthAdjust="spacingAndGlyphs">2.5</text>
<text x="298.3" y="1561" font-size="66" fill="#000" text-anchor="middle" textLength="110" lengthAdjust="spacingAndGlyphs">200</text>
<text x="604.4" y="1561" font-size="66" fill="#000" text-anchor="middle" textLength="110" lengthAdjust="spacingAndGlyphs">300</text>
<text x="910.6" y="1561" font-size="66" fill="#000" text-anchor="middle" textLength="110" lengthAdjust="spacingAndGlyphs">400</text>
<text x="1216.7" y="1561" font-size="66" fill="#000" text-anchor="middle" textLength="110" lengthAdjust="spacingAndGlyphs">500</text>
<text x="1522.8" y="1561" font-size="66" fill="#000" text-anchor="middle" textLength="110" lengthAdjust="spacingAndGlyphs">600</text>
<text x="1829" y="1561" font-size="66" fill="#000" text-anchor="middle" textLength="110" lengthAdjust="spacingAndGlyphs">700</text>
<text x="2135.1" y="1561" font-size="66" fill="#000" text-anchor="middle" textLength="110" lengthAdjust="spacingAndGlyphs">800</text>
<text x="228" y="3097.5" font-size="66" fill="#000" text-anchor="end" textLength="94" lengthAdjust="spacingAndGlyphs">0.0</text>
<text x="228" y="2750.7" font-size="66" fill="#000" text-anchor="end" textLength="94" lengthAdjust="spacingAndGlyphs">0.5</text>
<text x="228" y="2403.9" font-size="66" fill="#000" text-anchor="end" textLength="94" lengthAdjust="spacingAndGlyphs">1.0</text>
<text x="228" y="2057.1" font-size="66" fill="#000" text-anchor="end" textLength="94" lengthAdjust="spacingAndGlyphs">1.5</text>
<text x="228" y="1710.3" font-size="66" fill="#000" text-anchor="end" textLength="94" lengthAdjust="spacingAndGlyphs">2.0</text>
<text x="300.8" y="3198" font-size="66" fill="#000" text-anchor="middle" textLength="112" lengthAdjust="spacingAndGlyphs">300</text>
<text x="758.1" y="3198" font-size="66" fill="#000" text-anchor="middle" textLength="112" lengthAdjust="spacingAndGlyphs">400</text>
<text x="1215.4" y="3198" font-size="66" fill="#000" text-anchor="middle" textLength="112" lengthAdjust="spacingAndGlyphs">500</text>
<text x="1672.7" y="3198" font-size="66" fill="#000" text-anchor="middle" textLength="112" lengthAdjust="spacingAndGlyphs">600</text>
<text x="2130" y="3198" font-size="66" fill="#000" text-anchor="middle" textLength="112" lengthAdjust="spacingAndGlyphs">700</text>
<text x="94" y="960" font-size="88" fill="#000" textLength="440" lengthAdjust="spacingAndGlyphs" transform="rotate(-90 94 960)">Absorbance</text>
<text x="95" y="2594" font-size="88" fill="#000" textLength="440" lengthAdjust="spacingAndGlyphs" transform="rotate(-90 95 2594)">Absorbance</text>
<text x="953" y="3346" font-size="84" fill="#000" textLength="632" lengthAdjust="spacingAndGlyphs">Wavelength (nm)</text>
<text x="483" y="185" font-size="82" fill="#000" textLength="100" lengthAdjust="spacingAndGlyphs">(A)</text>
<text x="504" y="1832" font-size="82" fill="#000" textLength="100" lengthAdjust="spacingAndGlyphs">(B)</text>
<text x="498" y="717" font-size="68" fill="#000" textLength="128" lengthAdjust="spacingAndGlyphs">RUX</text>
<text x="1182" y="331" font-size="68" fill="#000" textLength="275" lengthAdjust="spacingAndGlyphs">RUX-CLA</text>
<text x="922" y="2016" font-size="68" fill="#000" textLength="307" lengthAdjust="spacingAndGlyphs">RUX-DDQ</text>
<text x="1235" y="475" font-size="66" fill="#ff0000" textLength="122" lengthAdjust="spacingAndGlyphs">37.5</text>
<text x="1278" y="745" font-size="66" fill="#7030a0" textLength="73" lengthAdjust="spacingAndGlyphs">30</text>
<text x="1257" y="930" font-size="66" fill="#00a844" textLength="121" lengthAdjust="spacingAndGlyphs">22.5</text>
<text x="1236" y="1206" font-size="66" fill="#ff6a00" textLength="162" lengthAdjust="spacingAndGlyphs">11.25</text>
<text x="991" y="2201" font-size="66" fill="#ff0000" textLength="127" lengthAdjust="spacingAndGlyphs">22.5</text>
<text x="998" y="2381" font-size="66" fill="#7f00ff" textLength="158" lengthAdjust="spacingAndGlyphs">18.75</text>
<text x="1002" y="2678" font-size="66" fill="#00a844" textLength="158" lengthAdjust="spacingAndGlyphs">11.25</text>
<text x="1023" y="2847" font-size="66" fill="#ff6a00" textLength="85" lengthAdjust="spacingAndGlyphs">7.5</text>
<text x="1674" y="1069" font-size="68" fill="#000" textLength="311" lengthAdjust="spacingAndGlyphs" transform="rotate(-90 1674 1069)">RUX conc.</text>
<text x="1556" y="2728" font-size="68" fill="#000" textLength="312" lengthAdjust="spacingAndGlyphs" transform="rotate(-90 1556 2728)">RUX conc.</text>
</svg>
</body></html>
